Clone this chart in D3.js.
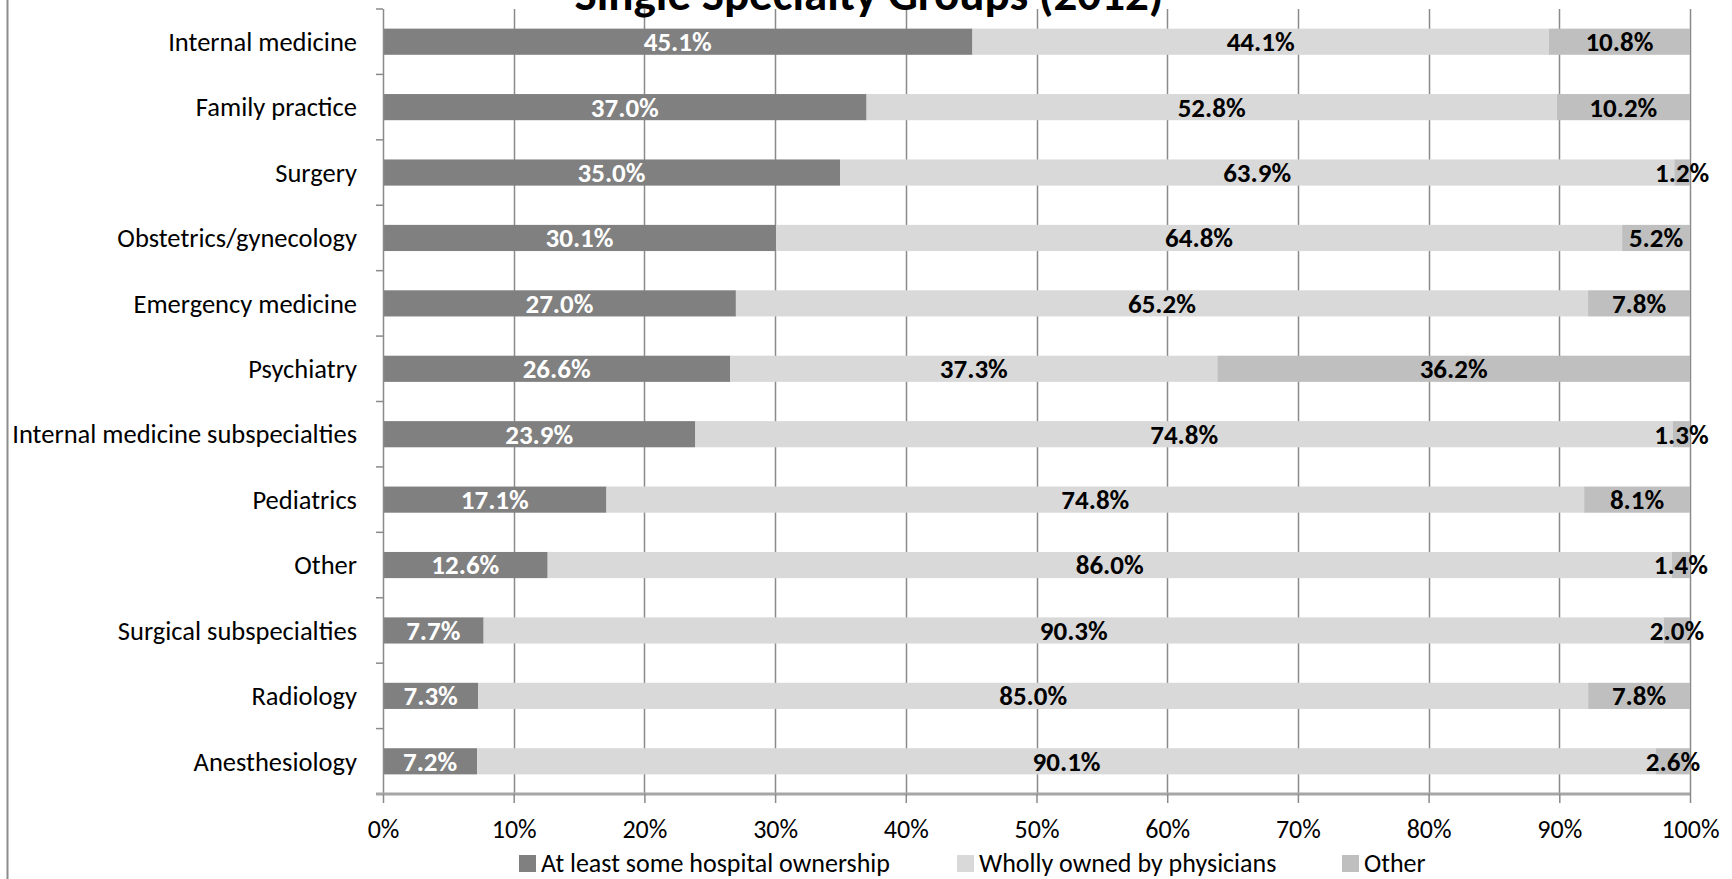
<!DOCTYPE html>
<html>
<head>
<meta charset="utf-8">
<script src="https://cdn.jsdelivr.net/npm/d3@7"></script>
<style>
  html, body { margin: 0; padding: 0; background: #fff; }
  svg { display: block; font-family: Carlito, Calibri, Lato, sans-serif; }
</style>
</head>
<body>
<svg id="chart" width="1732" height="879"></svg>
<script>
// Ownership of single specialty groups, by specialty (2012)
const categories = [
  "Internal medicine", "Family practice", "Surgery", "Obstetrics/gynecology",
  "Emergency medicine", "Psychiatry", "Internal medicine subspecialties",
  "Pediatrics", "Other", "Surgical subspecialties", "Radiology", "Anesthesiology"
];
const seriesNames = ["At least some hospital ownership", "Wholly owned by physicians", "Other"];
const hospitalOwned = [45.1, 37.0, 35.0, 30.1, 27.0, 26.6, 23.9, 17.1, 12.6, 7.7, 7.3, 7.2];
const physicianOwned = [44.1, 52.8, 63.9, 64.8, 65.2, 37.3, 74.8, 74.8, 86.0, 90.3, 85.0, 90.1];
const otherOwned = [10.8, 10.2, 1.2, 5.2, 7.8, 36.2, 1.3, 8.1, 1.4, 2.0, 7.8, 2.6];
const xTicks = [0, 0.1, 0.2, 0.3, 0.4, 0.5, 0.6, 0.7, 0.8, 0.9, 1.0];
const title = "Single Specialty Groups (2012)";

const colors = ["#808080", "#d9d9d9", "#bfbfbf"];
const labelColors = ["#ffffff", "#000000", "#000000"];

const svg = d3.select("#chart");
const plot = { left: 383, right: 1690, top: 9, bottom: 794 };

const rows = categories.map((c, i) => ({
  category: c, s0: hospitalOwned[i], s1: physicianOwned[i], s2: otherOwned[i]
}));
const keys = ["s0", "s1", "s2"];
const stacked = d3.stack().keys(keys).offset(d3.stackOffsetExpand)(rows);

const x = d3.scaleLinear().domain([0, 1]).range([plot.left, plot.right]);
const y = d3.scaleBand().domain(categories).range([plot.top, plot.bottom])
  .paddingInner(0.6).paddingOuter(0.3);
const yEdges = d3.scaleBand().domain(categories).range([plot.top, plot.bottom]);

// chart-area border on the left
svg.append("line").attr("x1", 7.5).attr("x2", 7.5).attr("y1", 0).attr("y2", 879)
  .attr("stroke", "#8c8c8c").attr("stroke-width", 2);

// vertical gridlines
svg.append("g").selectAll("line").data(xTicks.slice(1)).join("line")
  .attr("x1", d => Math.round(x(d)) + 0.5).attr("x2", d => Math.round(x(d)) + 0.5)
  .attr("y1", plot.top).attr("y2", plot.bottom)
  .attr("stroke", "#8a8a8a").attr("stroke-width", 1.5);

// title (partly clipped by the top edge)
svg.append("text").attr("x", 869).attr("y", 10)
  .attr("text-anchor", "middle").attr("font-weight", "bold")
  .attr("font-size", 47).attr("fill", "#000").text(title);

// stacked bars
const layer = svg.append("g").selectAll("g").data(stacked).join("g")
  .attr("fill", (d, i) => colors[i]);
layer.selectAll("rect").data(d => d).join("rect")
  .attr("x", d => x(d[0])).attr("width", d => x(d[1]) - x(d[0]))
  .attr("y", d => y(d.data.category)).attr("height", y.bandwidth());

// value labels centred in each segment
const vals = [hospitalOwned, physicianOwned, otherOwned];
stacked.forEach((s, si) => {
  svg.append("g").selectAll("text").data(s).join("text")
    .attr("x", d => (x(d[0]) + x(d[1])) / 2)
    .attr("y", d => y(d.data.category) + y.bandwidth() / 2)
    .attr("dy", "0.35em").attr("text-anchor", "middle")
    .attr("font-weight", "bold").attr("font-size", 27)
    .attr("fill", labelColors[si])
    .text((d, i) => vals[si][i].toFixed(1) + "%");
});

// y axis
const yAxis = svg.append("g").attr("transform", `translate(${plot.left},0)`);
yAxis.append("line").attr("x1", 0.5).attr("x2", 0.5).attr("y1", plot.top).attr("y2", plot.bottom)
  .attr("stroke", "#8a8a8a").attr("stroke-width", 1.5);
const edges = categories.map(c => yEdges(c)).concat([plot.bottom]);
yAxis.selectAll("line.tick").data(edges).join("line").attr("class", "tick")
  .attr("x1", -7).attr("x2", 0).attr("y1", d => d).attr("y2", d => d)
  .attr("stroke", "#8a8a8a").attr("stroke-width", 1.5);
yAxis.selectAll("text").data(categories).join("text")
  .attr("x", -26).attr("y", d => y(d) + y.bandwidth() / 2).attr("dy", "0.35em")
  .attr("text-anchor", "end").attr("font-size", 26.5).attr("fill", "#000").text(d => d);

// x axis
const xAxis = svg.append("g").attr("transform", `translate(0,${plot.bottom})`)
  .call(d3.axisBottom(x).tickValues(xTicks).tickFormat(d3.format(".0%")).tickSize(9).tickPadding(17));
xAxis.select(".domain").attr("stroke", "#a6a6a6").attr("stroke-width", 3)
  .attr("d", `M${plot.left - 7},0H${plot.right}`);
xAxis.selectAll(".tick line").attr("stroke", "#8a8a8a").attr("stroke-width", 1.5);
xAxis.selectAll(".tick text").attr("font-size", 26).attr("fill", "#000")
  .attr("font-family", "Carlito, Calibri, Lato, sans-serif");

// legend
const legendX = [519, 957, 1342];
const legend = svg.append("g").selectAll("g").data(seriesNames).join("g")
  .attr("transform", (d, i) => `translate(${legendX[i]},855)`);
legend.append("rect").attr("width", 17).attr("height", 17).attr("fill", (d, i) => colors[i]);
legend.append("text").attr("x", 22).attr("y", 8).attr("dy", "0.35em")
  .attr("font-size", 26).attr("fill", "#000").text(d => d);
</script>
</body>
</html>
